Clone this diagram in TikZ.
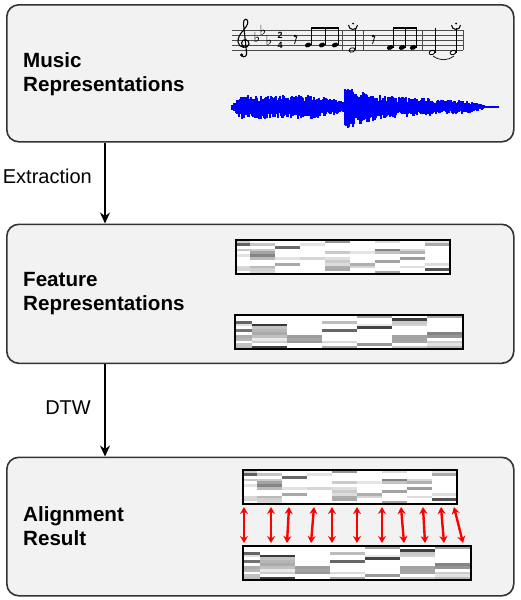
\documentclass[tikz,border=0pt]{standalone}
\usepackage{fontspec}
\setmainfont{Liberation Sans}
\newfontfamily\symfont{DejaVu Sans}
\usetikzlibrary{arrows.meta, positioning}
\tikzset{
  panel/.style={
    draw=black!80, line width=1.6pt, rounded corners=12pt,
    fill=black!5, minimum width=507pt, anchor=north west
  },
  title/.style={
    font=\bfseries\fontsize{20.6}{24}\selectfont,
    align=left, anchor=west, inner sep=0pt
  },
  steplabel/.style={font=\fontsize{20}{24}\selectfont, anchor=east, inner sep=0pt},
  flow/.style={-{Stealth[length=11pt,width=10pt]}, line width=1.9pt},
  match/.style={
    {Stealth[length=7pt,width=8pt]}-{Stealth[length=7pt,width=8pt]},
    line width=2.4pt, red
  },
  featbox/.style={
    anchor=north west, inner sep=0pt, outer sep=0pt,
    minimum height=34pt, fill=white
  },
  staff/.style={black!70, line width=0.6pt},
  wave/.style={blue, line width=1.5pt},
  flatsign/.style={font=\symfont\fontsize{14}{14}\selectfont, inner sep=0pt, anchor=base}
}

% grey cells of a feature matrix: node, first column, column width, last column, seed
\newcommand\featcells[5]{%
  \pgfmathsetseed{#5}%
  \foreach \c in {0,...,#4}{%
    \foreach \r in {0,...,11}{%
      \pgfmathsetmacro\xa{\c==0 ? 0 : #2+(\c-1)*#3}%
      \pgfmathsetmacro\xb{#2+\c*#3}%
      \pgfmathsetmacro\ya{\r*34/12}%
      \pgfmathsetmacro\yb{(\r+1)*34/12}%
      \pgfmathsetmacro\v{rnd}%
      \pgfmathsetmacro\g{\v<0.55 ? 0 : (\v<0.9 ? 8+(\v-0.55)*100 : 45+(\v-0.9)*350)}%
      \fill[black!\g] ([shift={(\xa,\ya)}]#1.north west) rectangle ([shift={(\xb,\yb)}]#1.north west);
    }}%
  \draw[line width=1.4pt] (#1.north west) rectangle (#1.south east);
}

\begin{document}
\begin{tikzpicture}[x=1pt, y=-1pt, >=Stealth]
  \useasboundingbox[fill=white] (0,0) rectangle (520,600);

  % panels
  \node[panel, minimum height=137pt] (music) at (6,4) {};
  \node[panel, minimum height=139pt] (feature) at (6,223.5) {};
  \node[panel, minimum height=138.5pt] (align) at (6,456.5) {};

  \node[title] (musictxt) at (23,74) {Music\\Representations};
  \node[title] (featuretxt) at (23,294) {Feature\\Representations};
  \node[title] (aligntxt) at (23,526) {Alignment\\Result};

  % score
  \foreach \k in {0,...,4}
    \draw[staff] (232,30+5*\k) -- (463,30+5*\k);
  \foreach \b in {342,363,422,463}
    \draw[staff] (\b,30) -- (\b,50);
  % treble clef
  \draw[line width=1.1pt] (241.5,55.5) .. controls (244,58.5) and (247.5,56) .. (246.5,52)
    -- (243.5,24) .. controls (243,18.5) and (247.5,17.5) .. (247.8,22)
    .. controls (248,28) and (237.5,33) .. (238,42) .. controls (238.5,48.5) and (248.5,49) .. (249,44)
    .. controls (249.5,39) and (242,38) .. (241.5,43) .. controls (241.5,45) and (243,46.5) .. (244.5,46.5);
  \fill (241.6,55) circle (1.7);
  \foreach \fx/\fy in {257/40,263/32.5,269/42.5}
    \node[flatsign] at (\fx,\fy+2.5) {♭};
  \node[font=\bfseries\fontsize{9}{9}\selectfont, inner sep=0pt] (timeA) at (280,35.5) {2};
  \node[font=\bfseries\fontsize{9}{9}\selectfont, inner sep=0pt] (timeB) at (280,45) {4};
  \foreach \rx in {295,373}{
    \fill (\rx,36) circle (1.3);
    \draw[line width=0.8pt] (\rx+2,35.5) -- (\rx-0.5,44);
  }
  \foreach \nx/\ny in {308/45,322/45,335/45,390/47.5,402/47.5,413/47.5}{
    \fill[rotate around={20:(\nx,\ny)}] (\nx,\ny) ellipse (3.2 and 2.3);
    \draw[line width=0.7pt] (\nx+3,\ny) -- (\nx+3,27);
  }
  \draw[line width=2pt] (311,27.5) -- (338,27.5);
  \draw[line width=2pt] (393,27.5) -- (416,27.5);
  \foreach \nx/\ny in {352/50,432/52.5,453/52.5}{
    \draw[line width=0.8pt, rotate around={20:(\nx,\ny)}] (\nx,\ny) ellipse (3 and 2.1);
    \draw[line width=0.7pt] (\nx+3,\ny) -- (\nx+3,28);
  }
  \foreach \fx in {353,456}{
    \draw[line width=1pt] (\fx-4.5,25) arc (180:0:4.5);
    \fill (\fx,23.5) circle (1);
  }
  \draw[line width=0.7pt] (433,56) .. controls (440,61) and (447,61) .. (454,56);

  % waveform
  \pgfmathsetseed{5}
  \foreach \x in {232,...,498}{
    \pgfmathsetmacro\env{\x<240 ? 3+9*(\x-232)/8 : (\x<320 ? 12 : (\x<345 ? 12-7*(\x-320)/25 : (\x<352 ? 21 : (\x<380 ? 21-9*(\x-352)/28 : (\x<470 ? 12-6*(\x-380)/90 : (\x<485 ? 6-4*(\x-470)/15 : 1.5))))))}
    \pgfmathsetmacro\up{\env*(0.45+0.55*rnd)}
    \pgfmathsetmacro\dn{\env*(0.45+0.55*rnd)}
    \draw[wave] (\x,107-\up) -- (\x,107+\dn);
  }

  % feature matrices
  \node[featbox, minimum width=214pt] (featA) at (236,240) {};
  \featcells{featA}{14}{25}{8}{11}
  \node[featbox, minimum width=228pt] (featB) at (235,315) {};
  \featcells{featB}{17}{35}{6}{23}

  \node[featbox, minimum width=214pt] (alignA) at (243,470) {};
  \featcells{alignA}{14}{25}{8}{11}
  \node[featbox, minimum width=228pt] (alignB) at (243,546) {};
  \featcells{alignB}{17}{35}{6}{23}

  % warping path
  \foreach \a/\b in {244/244,271/271,289/287,314/311,332/332,357/357,382/382,401/404,423/425,441/444,454/463}
    \draw[match] ([shift={(\a-243,3)}]alignA.south west) -- ([shift={(\b-243,-3)}]alignB.north west);

  % steps
  \node[steplabel] (extract) at (92,176) {Extraction};
  \node[steplabel] (dtw) at (91,408) {DTW};
  \draw[flow] ([xshift=99pt]music.south west) -- ([xshift=99pt]feature.north west);
  \draw[flow] ([xshift=99pt]feature.south west) -- ([xshift=99pt]align.north west);
\end{tikzpicture}
\end{document}
